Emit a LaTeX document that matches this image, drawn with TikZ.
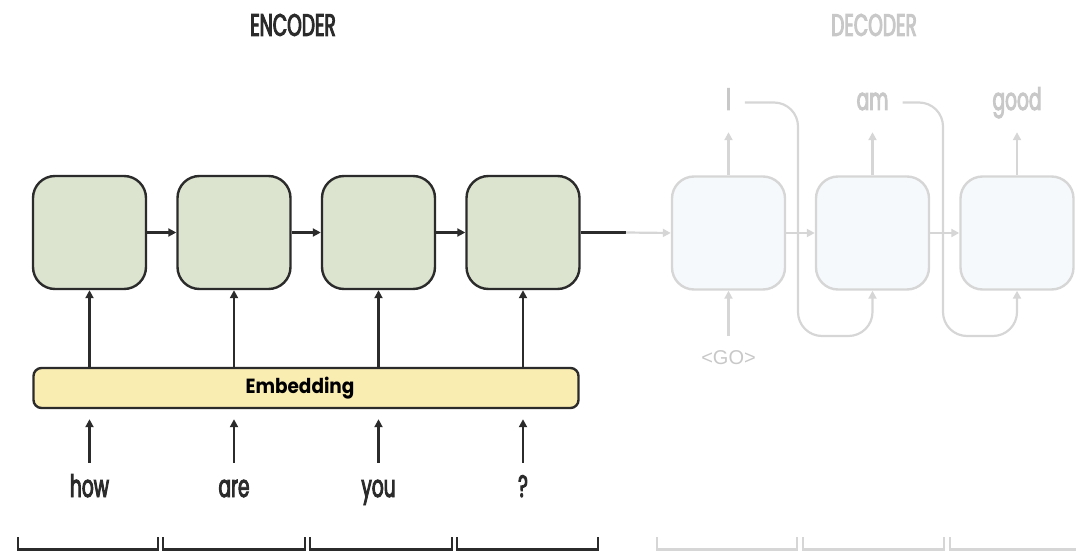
\documentclass[tikz,border=0pt]{standalone}
\usepackage{fontspec}
\usetikzlibrary{arrows.meta,calc}
\setmainfont{Liberation Sans}
\newfontfamily\condfont[FakeStretch=0.6, FakeBold=3]{Poppins}
\newfontfamily\embfont[FakeStretch=0.9]{Poppins}

\definecolor{encline}{HTML}{2B2B2B}
\definecolor{encfill}{HTML}{DCE3CF}
\definecolor{embfill}{HTML}{F9EDB2}
\definecolor{decline}{HTML}{D6D6D6}
\definecolor{decfill}{HTML}{F6F9FB}
\definecolor{dectext}{HTML}{C8C8C8}

\tikzset{
  cell/.style={rounded corners=22pt, minimum width=113pt, minimum height=113pt,
    line width=2.4pt, inner sep=0pt},
  encbox/.style={cell, draw=encline, fill=encfill},
  decbox/.style={cell, draw=decline, fill=decfill},
  encarr/.style={draw=encline, line width=2.2pt, -{Triangle[length=8pt,width=8pt]}},
  decarr/.style={draw=decline, line width=2.2pt, -{Triangle[length=8pt,width=8pt]}},
  encplain/.style={draw=encline, line width=2.2pt},
  title/.style={font=\condfont\fontsize{31}{36}\selectfont, inner sep=0pt},
  word/.style={font=\condfont\fontsize{31}{36}\selectfont, inner sep=0pt,
    text height=22pt, text depth=7pt, anchor=base},
  encbracket/.style={draw=encline, line width=2.2pt},
  decbracket/.style={draw=decline, line width=2.2pt},
}

\begin{document}
\begin{tikzpicture}[x=1pt,y=-1pt]
\useasboundingbox (0,0) rectangle (1076,551);

% titles
\node[title, text=encline] (enc) at (293,25) {ENCODER};
\node[title, text=dectext] (dec) at (874,25) {DECODER};

% encoder cells
\node[encbox] (e1) at (89.5,232.5) {};
\node[encbox] (e2) at (234,232.5) {};
\node[encbox] (e3) at (378.5,232.5) {};
\node[encbox] (e4) at (523,232.5) {};

% embedding layer
\node[draw=encline, fill=embfill, line width=2.4pt, rounded corners=8pt,
      minimum width=545pt, minimum height=40pt, inner sep=0pt,
      font=\embfont\bfseries\fontsize{20.5}{24}\selectfont] (emb) at (306,388) {Embedding\hspace*{12pt}};

% input words
\node[word, text=encline] (w1) at (89.5,497) {how};
\node[word, text=encline] (w2) at (234,497) {are};
\node[word, text=encline] (w3) at (378.5,497) {you};
\node[word, text=encline] (w4) at (523,497) {?};

% decoder cells
\node[decbox] (d1) at (728.5,233) {};
\node[decbox] (d2) at (872.5,233) {};
\node[decbox] (d3) at (1017,233) {};

% decoder outputs
\node[word, text=dectext] (o1) at (728.5,110) {I};
\node[word, text=dectext] (o2) at (872.5,110) {am};
\node[word, text=dectext] (o3) at (1017,110) {good};

% start token
\node[font=\fontsize{20}{24}\selectfont, text=dectext, inner sep=0pt] (go) at (728.5,358) {<GO>};

% encoder recurrence
\draw[encarr] (e1.east) -- (e2.west);
\draw[encarr] (e2.east) -- (e3.west);
\draw[encarr] (e3.east) -- (e4.west);

% embedding into cells, words into embedding
\foreach \i in {1,...,4}{
  \draw[encarr] (emb.north -| e\i) -- (e\i.south);
  \draw[encarr, shorten <=12pt, shorten >=10pt] (w\i.north) -- (w\i.north |- emb.south);
}

% hand-over from encoder to decoder
\coordinate (hand) at (626,232.5);
\draw[encplain] (e4.east) -- (hand);
\draw[decarr] (hand) -- (d1.west);

% decoder recurrence
\draw[decarr] (d1.east) -- (d2.west);
\draw[decarr] (d2.east) -- (d3.west);

% decoder outputs
\draw[decarr, shorten >=15pt] (d1.north) -- (d1.north |- o1.south);
\draw[decarr, shorten >=15pt] (d2.north) -- (d2.north |- o2.south);
\draw[decarr, shorten >=15pt] (d3.north) -- (d3.north |- o3.south);

% start token into first decoder cell
\draw[decarr, shorten <=15pt] (go.north) -- (d1.south);

% feed previous output back in
\coordinate (fb1) at (798,336);
\coordinate (fb2) at (943,336);
\draw[decarr, rounded corners=24pt, shorten <=14pt] (o1.east) -| (fb1) -| (d2.south);
\draw[decarr, rounded corners=24pt, shorten <=14pt] (o2.east) -| (fb2) -| (d3.south);

% time-step brackets
\foreach \a/\b in {18/158, 163/305, 310/452, 457/598}{
  \draw[encbracket] (\a,537) -- (\a,549.5) -- (\b,549.5) -- (\b,537);
}
\foreach \a/\b in {657/797, 803/944}{
  \draw[decbracket] (\a,537) -- (\a,549.5) -- (\b,549.5) -- (\b,537);
}
\draw[decbracket] (950,537) -- (950,549.5) -- (1090,549.5);
\end{tikzpicture}
\end{document}
